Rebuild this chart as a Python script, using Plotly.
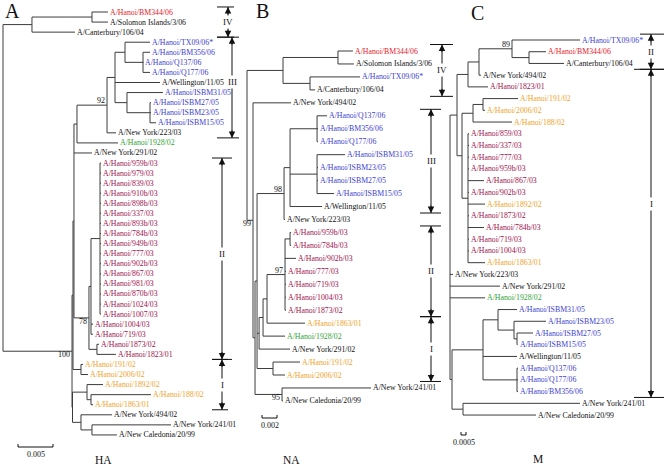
import re
import plotly.graph_objects as go

W, H = 664, 467
SERIF = "Liberation Serif, Times New Roman, serif"

# ---------------- data: trees (Newick, branch lengths in 1e-3 substitutions/site) ----------------
HA_NEWICK = """
((('A/Hanoi/BM344/06':2.29,'A/Solomon Islands/3/06':2.29):8.57,'A/Canterbury/106/04':6.14):4.14,
 ((((((('A/Hanoi/TX09/06*':3.57,('A/Hanoi/BM356/06':1.0,'A/Hanoi/Q137/06':0.07,'A/Hanoi/Q177/06':1.0):2.57):1.43,
        'A/Wellington/11/05':6.43,
        ('A/Hanoi/ISBM31/05':5.14,('A/Hanoi/ISBM27/05':0.14,'A/Hanoi/ISBM23/05':0.14,'A/Hanoi/ISBM15/05':0.86):3.29):1.71
       ):1.14,
       'A/New York/223/03':1.29)92:4.29,
      'A/Hanoi/1928/02':5.86):0.43,
     'A/New York/291/02':2.57,
     ((('A/Hanoi/959b/03':0.14,'A/Hanoi/979/03':0.14,'A/Hanoi/839/03':0.14,'A/Hanoi/910b/03':0.14,
        'A/Hanoi/898b/03':0.14,'A/Hanoi/337/03':0.14,'A/Hanoi/893b/03':0.14,'A/Hanoi/784b/03':0.14,
        'A/Hanoi/949b/03':0.14,'A/Hanoi/777/03':0.14,'A/Hanoi/902b/03':0.14,'A/Hanoi/867/03':0.14,
        'A/Hanoi/981/03':0.14,'A/Hanoi/870b/03':0.14,'A/Hanoi/1024/03':0.14,'A/Hanoi/1007/03':0.14):1.29,
       'A/Hanoi/1004/03':0.29,'A/Hanoi/719/03':0.29):0.29,
      ('A/Hanoi/1873/02':0.29,'A/Hanoi/1823/01':2.71):1.14)78:2.14
    ):0.14,
    ('A/Hanoi/191/02':0.29,'A/Hanoi/2006/02':1.0):1.14):0.14,
   (('A/Hanoi/1892/02':2.29,('A/Hanoi/188/02':8.57,'A/Hanoi/1863/01':0.29):0.57):2.07,
    ('A/New York/494/02':4.43,('A/New York/241/01':11.29,'A/New Caledonia/20/99':3.57):1.57):1.21):0.07
 )100:9.86);
"""

NA_NEWICK = """
((('A/Hanoi/BM344/06':2.0,'A/Solomon Islands/3/06':2.13):7.33,('A/Hanoi/TX09/06*':6.67,'A/Canterbury/106/04':0.67):3.6):4.8,
 ('A/New York/494/02':5.07,
  ((((('A/Hanoi/Q137/06':1.33,'A/Hanoi/BM356/06':0.13,'A/Hanoi/Q177/06':0.13):3.6,
       ('A/Hanoi/ISBM31/05':3.73,'A/Hanoi/ISBM23/05':0.13,'A/Hanoi/ISBM27/05':0.13,'A/Hanoi/ISBM15/05':2.27):3.6,
       'A/Wellington/11/05':4.27):0.8,
      'A/New York/223/03':0.13)98:3.6,
     ((((('A/Hanoi/959b/03':0.13,'A/Hanoi/784b/03':0.13):0.67,'A/Hanoi/902b/03':1.47,
          'A/Hanoi/777/03':0.13,'A/Hanoi/719/03':0.13,'A/Hanoi/1004/03':0.13,'A/Hanoi/1873/02':0.13)97:2.4,
         'A/Hanoi/1863/01':5.07):0.53,
        'A/Hanoi/1928/02':2.93):0.53,
       'A/New York/291/02':4.13):0.27,
     ('A/Hanoi/191/02':3.6,'A/Hanoi/2006/02':1.6):2.13):0.27,
   ('A/New York/241/01':11.87,'A/New Caledonia/20/99':0.13)95:3.6):0.27
 )99:0.8);
"""

M_NEWICK = """
((((('A/Hanoi/TX09/06*':6.8,('A/Hanoi/BM344/06':1.7,'A/Canterbury/106/04':3.5):1.7)89:3.3,
     'A/New York/494/02':0.2):1.1,
    'A/Hanoi/1823/01':2.0):1.1,
   ((('A/Hanoi/191/02':3.5,'A/Hanoi/2006/02':0.2):1.0,'A/Hanoi/188/02':3.9):1.1,
    ('A/Hanoi/859/03':0.1,'A/Hanoi/337/03':0.1,'A/Hanoi/777/03':0.1,'A/Hanoi/959b/03':0.1,
     'A/Hanoi/867/03':1.6,'A/Hanoi/902b/03':0.1,'A/Hanoi/1892/02':1.7,'A/Hanoi/1873/02':0.1,
     'A/Hanoi/784b/03':1.6,'A/Hanoi/719/03':0.1,'A/Hanoi/1004/03':0.1,'A/Hanoi/1863/01':1.7):0.6):0.5):0.7,
 'A/New York/223/03':0.3,
 'A/New York/291/02':5.0,
 'A/Hanoi/1928/02':3.5,
 ((('A/Hanoi/ISBM31/05':1.9,('A/Hanoi/ISBM23/05':3.2,('A/Hanoi/ISBM27/05':1.6,'A/Hanoi/ISBM15/05':0.05):0.3):1.6):1.5,
   'A/Wellington/11/05':3.4,
   ('A/Hanoi/Q137/06':0.1,'A/Hanoi/Q177/06':0.1,'A/Hanoi/BM356/06':0.1):3.4):3.1,
  ('A/New York/241/01':11.7,'A/New Caledonia/20/99':7.3):1.1):0.2);
"""

# scale bar values (same 1e-3 units)
SCALE_HA = 5.0
SCALE_NA = 2.0
SCALE_M = 0.5
SCALE_LABELS = ["0.005", "0.002", "0.0005"]
GENE_LABELS = ["HA", "NA", "M"]
PANEL_LETTERS = ["A", "B", "C"]

# strain colour groups
RED_STRAINS = ["A/Hanoi/BM344/06"]
BLUE_STRAINS = ["A/Hanoi/TX09/06*", "A/Hanoi/BM356/06", "A/Hanoi/Q137/06", "A/Hanoi/Q177/06",
                "A/Hanoi/ISBM31/05", "A/Hanoi/ISBM27/05", "A/Hanoi/ISBM23/05", "A/Hanoi/ISBM15/05"]
MAROON_STRAINS = ["A/Hanoi/959b/03", "A/Hanoi/979/03", "A/Hanoi/839/03", "A/Hanoi/859/03", "A/Hanoi/910b/03",
                  "A/Hanoi/898b/03", "A/Hanoi/337/03", "A/Hanoi/893b/03", "A/Hanoi/784b/03", "A/Hanoi/949b/03",
                  "A/Hanoi/777/03", "A/Hanoi/902b/03", "A/Hanoi/867/03", "A/Hanoi/981/03", "A/Hanoi/870b/03",
                  "A/Hanoi/1024/03", "A/Hanoi/1007/03", "A/Hanoi/1004/03", "A/Hanoi/719/03",
                  "A/Hanoi/1873/02", "A/Hanoi/1823/01"]
ORANGE_STRAINS = ["A/Hanoi/191/02", "A/Hanoi/2006/02", "A/Hanoi/1892/02", "A/Hanoi/188/02", "A/Hanoi/1863/01"]
GREEN_STRAINS = ["A/Hanoi/1928/02"]

# clade brackets: (label, first strain, last strain, strain row for the label or None)
HA_CLADES = [("IV", "A/Hanoi/BM344/06", "A/Canterbury/106/04", None),
             ("III", "A/Hanoi/TX09/06*", "A/New York/223/03", "A/Wellington/11/05"),
             ("II", "A/Hanoi/959b/03", "A/Hanoi/1823/01", "A/Hanoi/777/03"),
             ("I", "A/Hanoi/191/02", "A/Hanoi/1863/01", None)]
NA_CLADES = [("IV", "A/Hanoi/BM344/06", "A/Canterbury/106/04", None),
             ("III", "A/Hanoi/Q137/06", "A/Wellington/11/05", None),
             ("II", "A/Hanoi/959b/03", "A/Hanoi/1873/02", None),
             ("I", "A/Hanoi/1863/01", "A/Hanoi/2006/02", None)]
M_CLADES = [("II", "A/Hanoi/TX09/06*", "A/Canterbury/106/04", None),
            ("I", "A/New York/494/02", "A/Hanoi/BM356/06", "A/Hanoi/1892/02")]

# ---------------- styling / layout constants ----------------
COL = {"red": "#e3182a", "blue": "#4040d0", "maroon": "#a0104c", "orange": "#f0a22a",
       "green": "#2fa336", "black": "#111111"}
LINE_COL = "#3c3c3c"
LABEL_SIZE = 7.8

PANELS = [
    dict(newick=HA_NEWICK, xa="x", ya="y", x0=3.0, k=7.0, y0=12.0, s=10.07,
         scale=SCALE_HA, scale_px=(18, 447), letter_px=(12, 11), gene_px=(103, 460),
         clades=HA_CLADES,
         bracket_geo=[(228, 217, 234), (232, 217, 239), (222, 212, 232), (222, 212, 228)],
         boot_pos={"92": "above", "100": "below", "78": "below"}),
    dict(newick=NA_NEWICK, xa="x2", ya="y2", x0=247.0, k=7.5, y0=51.0, s=12.96,
         scale=SCALE_NA, scale_px=(262, 418), letter_px=(262, 11), gene_px=(291, 460),
         clades=NA_CLADES,
         bracket_geo=[(442, 430, 453), (431, 420, 441), (431, 420, 441), (431, 420, 441)],
         boot_pos={"99": "below", "98": "above", "97": "above", "95": "below"}),
    dict(newick=M_NEWICK, xa="x3", ya="y3", x0=450.0, k=10.0, y0=40.0, s=11.72,
         scale=SCALE_M, scale_px=(461, 435), letter_px=(477, 13), gene_px=(538, 459),
         clades=M_CLADES,
         bracket_geo=[(651, 640, 664), (651, 634, 664)],
         boot_pos={"89": "above"}),
]


def strain_color(name):
    if name in RED_STRAINS:
        return COL["red"]
    if name in BLUE_STRAINS:
        return COL["blue"]
    if name in MAROON_STRAINS:
        return COL["maroon"]
    if name in ORANGE_STRAINS:
        return COL["orange"]
    if name in GREEN_STRAINS:
        return COL["green"]
    return COL["black"]


def parse_newick(text):
    parts = re.split(r"('[^']*')", text.strip())
    s = "".join(p if p.startswith("'") else re.sub(r"\s+", "", p) for p in parts)
    s = s.rstrip(";")
    pos = 0

    def node():
        nonlocal pos
        n = {"children": [], "name": None, "length": 0.0}
        if s[pos] == "(":
            pos += 1
            while True:
                n["children"].append(node())
                if s[pos] == ",":
                    pos += 1
                    continue
                pos += 1  # ')'
                break
        if pos < len(s) and s[pos] == "'":
            end = s.index("'", pos + 1)
            n["name"] = s[pos + 1:end]
            pos = end + 1
        else:
            m = re.match(r"[^:,();]*", s[pos:])
            if m.group(0):
                n["name"] = m.group(0)
            pos += len(m.group(0))
        if pos < len(s) and s[pos] == ":":
            pos += 1
            m = re.match(r"[0-9.eE+-]+", s[pos:])
            n["length"] = float(m.group(0))
            pos += len(m.group(0))
        return n

    return node()


def layout_tree(root):
    leaves = []

    def walk(n, x):
        n["x"] = x
        if n["children"]:
            for c in n["children"]:
                walk(c, x + c["length"])
            n["y"] = (n["children"][0]["y"] + n["children"][-1]["y"]) / 2.0
        else:
            n["y"] = float(len(leaves))
            leaves.append(n)

    walk(root, 0.0)
    return leaves


def all_nodes(n):
    yield n
    for c in n["children"]:
        yield from all_nodes(c)


fig = go.Figure()
annotations = []
shapes = []
layout_axes = {}

for i, p in enumerate(PANELS):
    xa, ya = p["xa"], p["ya"]
    xd = lambda px, p=p: (px - p["x0"]) / p["k"]
    yd = lambda py, p=p: (py - p["y0"]) / p["s"]

    root = parse_newick(p["newick"])
    leaves = layout_tree(root)
    leaf_y = {lf["name"]: lf["y"] for lf in leaves}

    # branches
    xs, ys = [], []
    for n in all_nodes(root):
        if not n["children"]:
            continue
        ch = n["children"]
        xs += [n["x"], n["x"], None]
        ys += [ch[0]["y"], ch[-1]["y"], None]
        for c in ch:
            xs += [n["x"], c["x"], None]
            ys += [c["y"], c["y"], None]
    fig.add_trace(go.Scatter(x=xs, y=ys, mode="lines", xaxis=xa, yaxis=ya,
                             line=dict(color=LINE_COL, width=1), hoverinfo="skip",
                             showlegend=False))

    # leaf labels
    for lf in leaves:
        annotations.append(dict(x=lf["x"], y=lf["y"], xref=xa, yref=ya, text=lf["name"],
                                showarrow=False, xanchor="left", yanchor="middle", xshift=0,
                                font=dict(family=SERIF, size=LABEL_SIZE, color=strain_color(lf["name"]))))

    # bootstrap values (text trace)
    bx_, by_, bt_, bp_ = [], [], [], []
    for n in all_nodes(root):
        if n["children"] and n["name"]:
            pos = p["boot_pos"].get(n["name"], "above")
            bx_.append(n["x"] - 2.0 / p["k"])
            by_.append(n["y"])
            bt_.append(n["name"])
            bp_.append("top left" if pos == "above" else "bottom left")
    fig.add_trace(go.Scatter(x=bx_, y=by_, text=bt_, mode="text", textposition=bp_,
                             xaxis=xa, yaxis=ya, hoverinfo="skip", showlegend=False,
                             textfont=dict(family=SERIF, size=8, color="#111111")))

    # clade brackets
    for (lab, first, last, lab_leaf), (lx, bx0, bx1) in zip(p["clades"], p["bracket_geo"]):
        ytop = leaf_y[first] - 0.5
        ybot = leaf_y[last] + 0.5
        ylab = leaf_y[lab_leaf] if lab_leaf else (ytop + ybot) / 2.0
        shapes.append(dict(type="line", xref="paper", yref=ya, x0=lx / W, x1=lx / W, y0=ytop, y1=ybot,
                           line=dict(color="#111111", width=1)))
        for yb in (ytop, ybot):
            shapes.append(dict(type="line", xref="paper", yref=ya, x0=bx0 / W, x1=bx1 / W, y0=yb, y1=yb,
                               line=dict(color="#111111", width=1)))
        annotations.append(dict(x=lx / W, y=ytop, xref="paper", yref=ya, text="", showarrow=True,
                                ax=0, ay=9, arrowhead=2, arrowsize=1.3, arrowwidth=1, arrowcolor="#111111"))
        annotations.append(dict(x=lx / W, y=ybot, xref="paper", yref=ya, text="", showarrow=True,
                                ax=0, ay=-9, arrowhead=2, arrowsize=1.3, arrowwidth=1, arrowcolor="#111111"))
        annotations.append(dict(x=lx / W, y=ylab, xref="paper", yref=ya, text=lab, showarrow=False,
                                xanchor="center", yanchor="middle", bgcolor="white", borderpad=1,
                                font=dict(family=SERIF, size=9, color="#111111")))

    # scale bar
    sx, sy = p["scale_px"]
    bx0 = xd(sx)
    bx1 = bx0 + p["scale"]
    shapes.append(dict(type="line", xref=xa, yref=ya, x0=bx0, x1=bx1, y0=yd(sy), y1=yd(sy),
                       line=dict(color="#111111", width=1)))
    for bx in (bx0, bx1):
        shapes.append(dict(type="line", xref=xa, yref=ya, x0=bx, x1=bx, y0=yd(sy), y1=yd(sy - 3),
                           line=dict(color="#111111", width=1)))
    annotations.append(dict(x=(bx0 + bx1) / 2, y=yd(sy), xref=xa, yref=ya, text=SCALE_LABELS[i],
                            showarrow=False, xanchor="center", yanchor="top", yshift=-1,
                            font=dict(family=SERIF, size=8, color="#111111")))

    # panel letter and gene
    lx_, ly_ = p["letter_px"]
    annotations.append(dict(x=lx_ / W, y=1 - ly_ / H, xref="paper", yref="paper", text=PANEL_LETTERS[i],
                            showarrow=False, xanchor="center", yanchor="middle", borderpad=0,
                            font=dict(family=SERIF, size=20, color="#111111")))
    gx, gy = p["gene_px"]
    annotations.append(dict(x=gx / W, y=1 - gy / H, xref="paper", yref="paper", text=GENE_LABELS[i],
                            showarrow=False, xanchor="center", yanchor="middle", borderpad=0,
                            font=dict(family=SERIF, size=11.5, color="#111111")))

    # axes
    suffix = "" if i == 0 else str(i + 1)
    xr = [xd(0), xd(W)]
    yr = [yd(H), yd(0)]
    xax = dict(domain=[0, 1], range=xr, visible=False, fixedrange=True, anchor=ya)
    yax = dict(domain=[0, 1], range=yr, visible=False, fixedrange=True, anchor=xa)
    if i > 0:
        xax["overlaying"] = "x"
        yax["overlaying"] = "y"
    layout_axes["xaxis" + suffix] = xax
    layout_axes["yaxis" + suffix] = yax

fig.update_layout(width=W, height=H, margin=dict(l=0, r=0, t=0, b=0),
                  paper_bgcolor="white", plot_bgcolor="white", showlegend=False,
                  annotations=annotations, shapes=shapes, **layout_axes)

fig.write_html("out.html", config={"displayModeBar": False, "staticPlot": True},
               post_script="document.body.style.margin='0px';document.body.style.overflow='hidden';")
